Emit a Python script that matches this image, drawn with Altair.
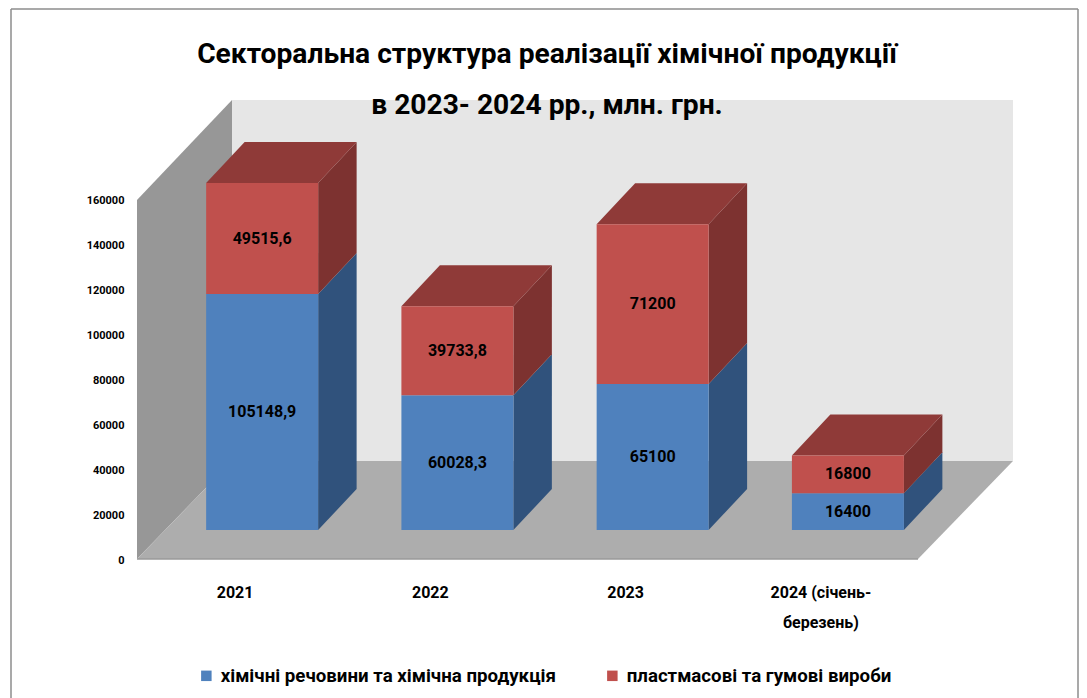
import altair as alt
import pandas as pd

categories = ["2021", "2022", "2023", "2024 (січень-|березень)"]
chem = [105148.9, 60028.3, 65100, 16400]
plast = [49515.6, 39733.8, 71200, 16800]
chem_labels = ["105148,9", "60028,3", "65100", "16400"]
plast_labels = ["49515,6", "39733,8", "71200", "16800"]
series = ["хімічні речовини та хімічна продукція", "пластмасові та гумові вироби"]
title_lines = ["Секторальна структура реалізації хімічної  продукції", "в 2023- 2024 рр., млн. грн."]
y_ticks = [0, 20000, 40000, 60000, 80000, 100000, 120000, 140000, 160000]

FONT = "Roboto"
# 3-D projection, in data units
X_MAX = 4.4866
Y_MAX = 204568
WALL_DX = 0.4866
WALL_DY = 43677
BAR_HALF = 0.2868
SHIFT_X = 0.141
SHIFT_Y = 12925
DEPTH_X = 0.197
DEPTH_Y = 18273

x_scale = alt.Scale(domain=[0, X_MAX], nice=False, zero=False)
y_scale = alt.Scale(domain=[0, Y_MAX], nice=False, zero=False)

front, side, top = [], [], []
for i, c in enumerate(categories):
    cx = i + 0.5 + SHIFT_X
    x0, x1 = cx - BAR_HALF, cx + BAR_HALF
    base = 0
    for name, v, lab in ((series[0], chem[i], chem_labels[i]), (series[1], plast[i], plast_labels[i])):
        lo, hi = base + SHIFT_Y, base + v + SHIFT_Y
        front.append(dict(x0=x0, x1=x1, lo=lo, hi=hi, s=name, label=lab, cx=cx, my=(lo + hi) / 2))
        for k in (0, 1):
            side.append(dict(g=f"{i}-{name}", s=name, x=x1 + k * DEPTH_X,
                             lo=lo + k * DEPTH_Y, hi=hi + k * DEPTH_Y))
        base += v
    for k in (0, 1):
        top.append(dict(g=i, y=base + SHIFT_Y + k * DEPTH_Y,
                        a=x0 + k * DEPTH_X, b=x1 + k * DEPTH_X))

df_front, df_side, df_top = pd.DataFrame(front), pd.DataFrame(side), pd.DataFrame(top)

X = lambda f, **k: alt.X(f, type="quantitative", scale=x_scale, **k)
Y = lambda f, **k: alt.Y(f, type="quantitative", scale=y_scale, **k)

x_expr = "{" + ",".join(f"'{i + 0.5}':{c.split('|')!r}" for i, c in enumerate(categories)) + "}[datum.value]"
x_axis = alt.Axis(values=[i + 0.5 for i in range(4)], labelExpr=x_expr, title=None, domain=False, ticks=False,
                  grid=False, labelPadding=25, labelFont=FONT, labelFontWeight="bold", labelFontSize=16,
                  labelColor="#000", labelOverlap=False, labelFlush=False, labelLineHeight=30)
y_axis = alt.Axis(values=y_ticks, title=None, domain=False, ticks=False, grid=False, labelPadding=13,
                  format="d", labelFont=FONT, labelFontWeight="bold", labelFontSize=11, labelColor="#000",
                  labelOverlap=False, labelFlush=False, labelOffset=1)

back = alt.Chart(pd.DataFrame({"a": [WALL_DX], "b": [X_MAX], "lo": [WALL_DY], "hi": [Y_MAX]})).mark_rect(
    color="#e6e6e6"
).encode(x=X("a:Q", axis=x_axis), x2="b:Q", y=Y("lo:Q", axis=y_axis), y2="hi:Q")

left = alt.Chart(pd.DataFrame({"x": [0, WALL_DX], "lo": [0, WALL_DY], "hi": [160000, Y_MAX]})).mark_area(
    color="#979797"
).encode(x=X("x:Q"), y=Y("lo:Q"), y2="hi:Q")

floor = alt.Chart(pd.DataFrame({"y": [0, WALL_DY], "a": [0, WALL_DX], "b": [4, X_MAX]})).mark_area(
    orient="horizontal", color="#adadad"
).encode(y=Y("y:Q"), x=X("a:Q"), x2="b:Q")

floor_line = alt.Chart(pd.DataFrame({"a": [0], "b": [4], "y": [0]})).mark_rule(color="#9a9a9a", strokeWidth=1.5).encode(
    x=X("a:Q"), x2="b:Q", y=Y("y:Q"))

side_blue = alt.Chart(df_side[df_side.s == series[0]]).mark_area(color="#30527c").encode(
    x=X("x:Q"), y=Y("lo:Q"), y2="hi:Q", detail="g:N")
side_red = alt.Chart(df_side[df_side.s == series[1]]).mark_area(color="#7d3230").encode(
    x=X("x:Q"), y=Y("lo:Q"), y2="hi:Q", detail="g:N")
tops = alt.Chart(df_top).mark_area(orient="horizontal", color="#8f3a38").encode(
    y=Y("y:Q"), x=X("a:Q"), x2="b:Q", detail="g:N")

bars = alt.Chart(df_front).mark_rect().encode(
    x=X("x0:Q"), x2="x1:Q", y=Y("lo:Q"), y2="hi:Q",
    color=alt.Color("s:N", scale=alt.Scale(domain=series, range=["#4f81bd", "#c0504d"]),
                    legend=alt.Legend(title=None, orient="none", legendX=60, legendY=566, direction="horizontal",
                                      symbolType="square", symbolSize=110, symbolStrokeWidth=1,
                                      labelFont=FONT, labelFontSize=18.7, labelFontWeight="bold", labelColor="#000",
                                      columnPadding=47, labelOffset=5, labelLimit=500, symbolOpacity=1)),
)

labels = alt.Chart(df_front).mark_text(font=FONT, fontWeight="bold", fontSize=16, color="#000").encode(
    x=X("cx:Q"), y=Y("my:Q"), text="label:N")

border = alt.Chart(pd.DataFrame({"a": [0]})).mark_rule(color="#8c8c8c", strokeWidth=1.5)
b_left = border.encode(x=alt.value(-126), y=alt.value(-91), y2=alt.value(598))
b_top = border.encode(x=alt.value(-126), x2=alt.value(941), y=alt.value(-91))
b_right = border.encode(x=alt.value(941), y=alt.value(-91), y2=alt.value(598))

chart = alt.layer(
    back, left, floor, floor_line, side_blue, side_red, tops, bars, labels, b_left, b_top, b_right
).properties(
    width=876, height=459,
    padding={"left": 129, "top": 92, "right": 66, "bottom": 139},
    autosize=alt.AutoSizeParams(type="none"),
    background="white",
    title=alt.TitleParams(text=title_lines, font=FONT, fontSize=28.2, fontWeight="bold", color="#000",
                          anchor="middle", dx=-28, dy=116, lineHeight=51),
).configure_view(stroke="transparent")

chart.save("out.html", embed_options={"renderer": "svg", "actions": False})
